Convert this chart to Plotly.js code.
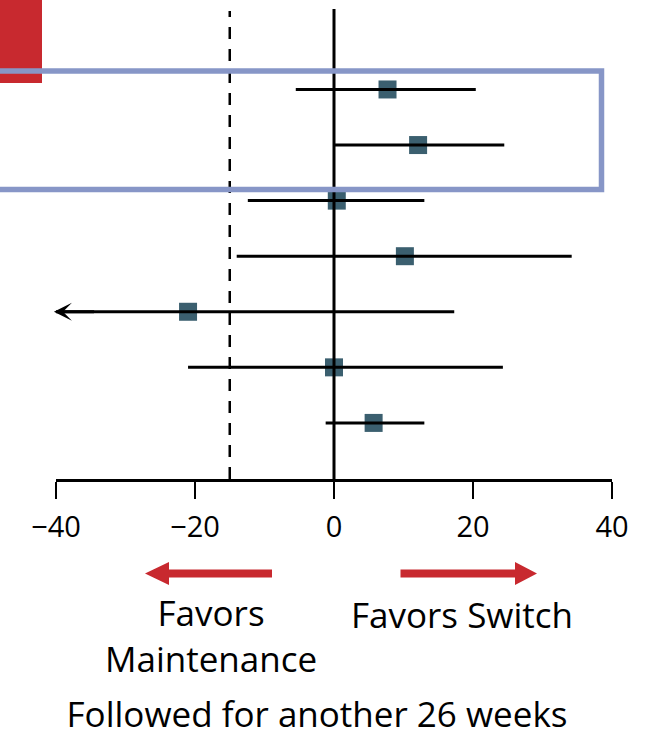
<!DOCTYPE html>
<html><head><meta charset="utf-8">
<script src="https://cdn.plot.ly/plotly-3.0.1.min.js"></script>
<style>html,body{margin:0;padding:0;background:#fff}#chart{width:646px;height:736px}</style>
</head><body><div id="chart"></div>
<script>
// ---- data ----
const rowIndex = [1, 2, 3, 4, 5, 6, 7];
const estimates = [7.7, 12.1, 0.4, 10.2, -21.0, 0.0, 5.7];
const lowerCI   = [-5.5, 0.0, -12.4, -14.0, -40.3, -21.0, -1.2];
const upperCI   = [20.4, 24.5, 13.0, 34.2, 17.3, 24.3, 13.0];
const lowerTruncated = [false, false, false, false, true, false, false];
const xTickValues = [-40, -20, 0, 20, 40];
const nullEffect = 0;
const nonInferiorityMargin = -15;
const leftLabelLines = ['Favors', 'Maintenance'];
const rightLabel = 'Favors Switch';
const titleText = 'Followed for another 26 weeks';

// ---- layout helpers ----
const W = 646, H = 736;
const M = {l: 56, r: 34, t: 9, b: 257};
const pw = W - M.l - M.r, ph = H - M.t - M.b;
const px2x = p => (p - M.l) / pw;
const py2y = p => (H - M.b - p) / ph;
const nRows = rowIndex.length;
const yPos = rowIndex.map(i => nRows + 1 - i);
const FONT = 'Open Sans, Noto Sans, sans-serif';
const RED = '#c8292f';
const BLUE = '#8796c7';
const SQ = '#3b5f6f';
const TXT = 35;

const traces = [];
traces.push({
  type: 'scatter', mode: 'markers', x: estimates, y: yPos,
  marker: {symbol: 'square', size: 18, color: SQ, line: {width: 0}},
  hoverinfo: 'skip', showlegend: false
});
rowIndex.forEach((r, k) => {
  traces.push({
    type: 'scatter', mode: 'lines',
    x: [lowerCI[k], upperCI[k]], y: [yPos[k], yPos[k]],
    line: {color: '#000', width: 3},
    hoverinfo: 'skip', showlegend: false
  });
});

const annotations = [];
rowIndex.forEach((r, k) => {
  if (lowerTruncated[k]) {
    annotations.push({
      xref: 'x', yref: 'y', axref: 'x', ayref: 'y',
      x: lowerCI[k], y: yPos[k], ax: lowerCI[k] + 6, ay: yPos[k],
      text: '', showarrow: true, arrowhead: 3, arrowsize: 1,
      arrowwidth: 3, arrowcolor: '#000', standoff: 0
    });
  }
});
annotations.push({xref: 'paper', yref: 'paper', x: px2x(210.5), y: py2y(635),
  text: leftLabelLines.join('<br>'), showarrow: false, xanchor: 'center', yanchor: 'middle',
  font: {family: FONT, size: TXT, color: '#000'}});
annotations.push({xref: 'paper', yref: 'paper', x: px2x(462), y: py2y(614),
  text: rightLabel, showarrow: false, xanchor: 'center', yanchor: 'middle',
  font: {family: FONT, size: TXT, color: '#000'}});

function arrowPath(tail, tip, yc, headLen, headHalf, shaftHalf) {
  const dir = Math.sign(tip - tail);
  const base = tip - dir * headLen;
  const pts = [
    [tail, yc - shaftHalf], [base, yc - shaftHalf], [base, yc - headHalf],
    [tip, yc], [base, yc + headHalf], [base, yc + shaftHalf], [tail, yc + shaftHalf]
  ];
  return 'M' + pts.map(p => px2x(p[0]).toFixed(5) + ',' + py2y(p[1]).toFixed(5)).join('L') + 'Z';
}

const shapes = [
  {type: 'rect', xref: 'paper', yref: 'paper', x0: px2x(-2), x1: px2x(42), y0: py2y(83), y1: py2y(-2),
   fillcolor: RED, line: {width: 0}, layer: 'above'},
  {type: 'line', xref: 'x', yref: 'paper', x0: nullEffect, x1: nullEffect, y0: 0, y1: 1,
   line: {color: '#000', width: 3}, layer: 'above'},
  {type: 'line', xref: 'x', yref: 'paper', x0: nonInferiorityMargin, x1: nonInferiorityMargin, y0: 0, y1: py2y(11),
   line: {color: '#000', width: 2.5, dash: '12px,10px'}, layer: 'above'},
  {type: 'rect', xref: 'paper', yref: 'paper', x0: px2x(-10), x1: px2x(601.5), y0: py2y(189.5), y1: py2y(71),
   line: {color: BLUE, width: 5.5}, fillcolor: 'rgba(0,0,0,0)', layer: 'above'},
  {type: 'path', xref: 'paper', yref: 'paper', path: arrowPath(272, 145, 573.5, 24, 11.5, 4),
   fillcolor: RED, line: {width: 0}},
  {type: 'path', xref: 'paper', yref: 'paper', path: arrowPath(400.5, 537, 573.5, 22, 11.5, 4),
   fillcolor: RED, line: {width: 0}}
];

const layout = {
  width: W, height: H,
  margin: M,
  paper_bgcolor: '#fff', plot_bgcolor: '#fff',
  showlegend: false,
  font: {family: FONT, color: '#000'},
  title: {text: titleText, font: {family: FONT, size: TXT, color: '#000'},
    xref: 'paper', x: px2x(317), xanchor: 'center',
    yref: 'container', y: (H - 715) / H, yanchor: 'middle'},
  xaxis: {
    range: [-40, 40], tickvals: xTickValues, ticktext: xTickValues.map(v => v < 0 ? '\u2212' + Math.abs(v) : String(v)),
    showgrid: false, zeroline: false, showline: true, linecolor: '#000', linewidth: 2.5,
    ticks: 'outside', ticklen: 17, tickwidth: 2.5, tickcolor: '#000', ticklabelstandoff: 4,
    tickfont: {family: FONT, size: 29, color: '#000'}, fixedrange: true
  },
  yaxis: {
    range: [-0.009, 8.448], visible: false, showgrid: false, zeroline: false, fixedrange: true
  },
  shapes: shapes,
  annotations: annotations
};

Plotly.newPlot('chart', traces, layout, {displayModeBar: false, staticPlot: true});
</script>
</body></html>
